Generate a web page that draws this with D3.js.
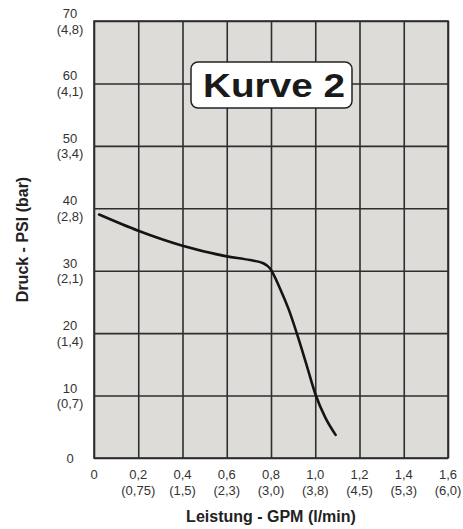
<!DOCTYPE html>
<html>
<head>
<meta charset="utf-8">
<script src="https://cdn.jsdelivr.net/npm/d3@7"></script>
<style>
  body { margin: 0; background: #fff; }
  svg { display: block; font-family: Arial, "Liberation Sans", sans-serif; }
</style>
</head>
<body>
<svg></svg>
<script>
// tick values and labels
let psiTicks = [0, 10, 20, 30, 40, 50, 60, 70]
let barLabels = ['', '(0,7)', '(1,4)', '(2,1)', '(2,8)', '(3,4)', '(4,1)', '(4,8)']
let gpmTicks = [0, 0.2, 0.4, 0.6, 0.8, 1.0, 1.2, 1.4, 1.6]
let gpmLabels = ['0', '0,2', '0,4', '0,6', '0,8', '1,0', '1,2', '1,4', '1,6']
let lpmLabels = ['', '(0,75)', '(1,5)', '(2,3)', '(3,0)', '(3,8)', '(4,5)', '(5,3)', '(6,0)']

// pump curve
let curveGpm = [0.023, 0.2, 0.4, 0.6, 0.705, 0.765, 0.795, 0.84, 0.88, 0.92, 0.96, 1.0, 1.045, 1.092]
let curvePsi = [39.0, 36.4, 34.0, 32.3, 31.7, 31.2, 30.4, 27.2, 23.8, 19.6, 15.0, 10.3, 6.5, 3.7]

let w = 463
let h = 529
let plotL = 94, plotR = 448, plotT = 21, plotB = 458

let svg = d3.select('svg').attr('width', w).attr('height', h)

let xScale = d3.scaleLinear().domain([0, 1.6]).range([plotL, plotR])
let yScale = d3.scaleLinear().domain([0, 70]).range([plotB, plotT])

// plot background
svg.append('rect')
   .attr('x', plotL).attr('y', plotT)
   .attr('width', plotR - plotL).attr('height', plotB - plotT)
   .attr('fill', '#dddcd8')

// grid via axes
let xGrid = d3.axisBottom(xScale).tickValues(gpmTicks).tickSize(-(plotB - plotT)).tickFormat('')
let yGrid = d3.axisLeft(yScale).tickValues(psiTicks).tickSize(-(plotR - plotL)).tickFormat('')

svg.append('g').attr('transform', 'translate(0,' + plotB + ')').call(xGrid)
   .call(g => g.select('.domain').remove())
   .selectAll('line').attr('stroke', '#2e2e2e').attr('stroke-width', 1.6)
svg.append('g').attr('transform', 'translate(' + plotL + ',0)').call(yGrid)
   .call(g => g.select('.domain').remove())
   .selectAll('line').attr('stroke', '#2e2e2e').attr('stroke-width', 1.6)

svg.append('rect')
   .attr('x', plotL).attr('y', plotT)
   .attr('width', plotR - plotL).attr('height', plotB - plotT)
   .attr('fill', 'none').attr('stroke', '#2e2e2e').attr('stroke-width', 1.6)

// y labels
psiTicks.forEach((v, i) => {
   let y = yScale(v)
   if (barLabels[i] === '') {
      svg.append('text').attr('x', 70).attr('y', y + 5).attr('text-anchor', 'middle')
         .attr('font-size', 13).attr('fill', '#333').text(v)
   } else {
      svg.append('text').attr('x', 70).attr('y', y - 3).attr('text-anchor', 'middle')
         .attr('font-size', 13).attr('fill', '#333').text(v)
      svg.append('text').attr('x', 70).attr('y', y + 12.5).attr('text-anchor', 'middle')
         .attr('font-size', 13).attr('fill', '#333').text(barLabels[i])
   }
})

// x labels
gpmTicks.forEach((v, i) => {
   let x = xScale(v)
   svg.append('text').attr('x', x).attr('y', 479).attr('text-anchor', 'middle')
      .attr('font-size', 13).attr('fill', '#333').text(gpmLabels[i])
   if (lpmLabels[i] !== '') {
      svg.append('text').attr('x', x).attr('y', 495).attr('text-anchor', 'middle')
         .attr('font-size', 13).attr('fill', '#333').text(lpmLabels[i])
   }
})

// axis titles
svg.append('text')
   .attr('transform', 'translate(28,' + ((plotT + plotB) / 2) + ') rotate(-90)')
   .attr('text-anchor', 'middle').attr('font-size', 16).attr('font-weight', 'bold')
   .attr('fill', '#222').text('Druck - PSI (bar)')

svg.append('text')
   .attr('x', (plotL + plotR) / 2).attr('y', 522)
   .attr('text-anchor', 'middle').attr('font-size', 16).attr('font-weight', 'bold')
   .attr('fill', '#222').text('Leistung - GPM (l/min)')

// curve
let points = curveGpm.map((g, i) => [g, curvePsi[i]])
let line = d3.line()
   .x(d => xScale(d[0]))
   .y(d => yScale(d[1]))
   .curve(d3.curveMonotoneX)

svg.append('path')
   .datum(points)
   .attr('d', line)
   .attr('fill', 'none')
   .attr('stroke', '#141414')
   .attr('stroke-width', 2.6)
   .attr('stroke-linecap', 'round')

// title box
svg.append('rect')
   .attr('x', 191).attr('y', 62).attr('width', 161).attr('height', 46)
   .attr('rx', 7).attr('fill', '#fff').attr('stroke', '#222').attr('stroke-width', 1.5)
svg.append('text')
   .attr('x', 203).attr('y', 97)
   .attr('textLength', 142).attr('lengthAdjust', 'spacingAndGlyphs')
   .attr('font-size', 33).attr('font-weight', 'bold').attr('fill', '#1a1a1a')
   .text('Kurve 2')
</script>
</body>
</html>
